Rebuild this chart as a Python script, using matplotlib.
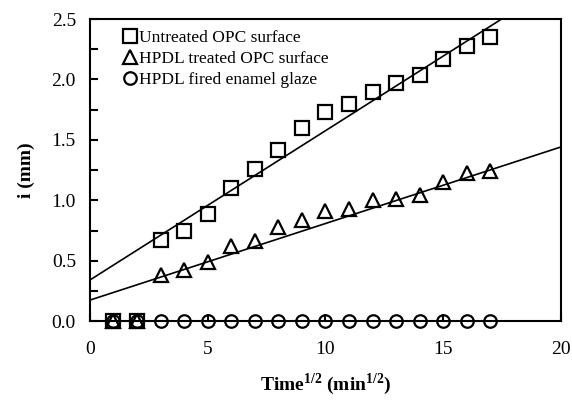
import matplotlib
matplotlib.use("Agg")
import matplotlib.pyplot as plt
import matplotlib.ticker as mticker
import numpy as np

# sqrt(time) values, min^1/2
t = [1, 2, 3, 4, 5, 6, 7, 8, 9, 10, 11, 12, 13, 14, 15, 16, 17]

untreated = [0.0, 0.0, 0.67, 0.75, 0.89, 1.10, 1.26, 1.42, 1.60, 1.73,
             1.80, 1.90, 1.97, 2.04, 2.17, 2.28, 2.35]
hpdl_treated = [0.0, 0.0, 0.38, 0.42, 0.49, 0.62, 0.66, 0.78, 0.84, 0.91,
                0.93, 1.00, 1.01, 1.04, 1.15, 1.23, 1.24]
enamel = [0.0] * 17

# linear fits (slope, intercept)
fit_untreated = (0.1236, 0.34)
fit_treated = (0.0634, 0.174)

labels = ["Untreated OPC surface", "HPDL treated OPC surface", "HPDL fired enamel glaze"]

plt.rcParams["font.family"] = ["Liberation Serif", "DejaVu Serif"]
plt.rcParams["mathtext.fontset"] = "custom"
plt.rcParams["mathtext.rm"] = "Liberation Serif"
plt.rcParams["mathtext.bf"] = "Liberation Serif:bold"

fig = plt.figure(figsize=(5.72, 4.05), dpi=100)
ax = fig.add_axes([0.157, 0.207, 0.824, 0.746])

fx = np.array([0, 20])
for slope, icpt in (fit_untreated, fit_treated):
    ax.plot(fx, slope * fx + icpt, color="black", lw=1.2, zorder=2)

mk = dict(linestyle="none", markerfacecolor="none", markeredgecolor="black",
          markeredgewidth=1.6, clip_on=False, zorder=3)
ax.plot(t, enamel, marker="o", markersize=9, label=labels[2], **mk)
ax.plot(t, hpdl_treated, marker="^", markersize=10, label=labels[1], **mk)
ax.plot(t, untreated, marker="s", markersize=10, label=labels[0], **mk)

ax.set_xlim(0, 20)
ax.set_ylim(0, 2.5)
ax.xaxis.set_major_locator(mticker.MultipleLocator(5))
ax.yaxis.set_major_locator(mticker.MultipleLocator(0.5))
ax.yaxis.set_minor_locator(mticker.MultipleLocator(0.25))
ax.yaxis.set_major_formatter(mticker.FormatStrFormatter("%.1f"))
ax.tick_params(which="both", direction="in", width=1.5, labelsize=14,
               top=False, right=False)
ax.tick_params(axis="y", which="major", length=6, pad=10)
ax.tick_params(axis="y", which="minor", length=6)
ax.tick_params(axis="x", which="major", length=5, pad=14)
for sp in ax.spines.values():
    sp.set_linewidth(1.5)

ax.set_xlabel("Time$^{\\mathbf{1/2}}$ (min$^{\\mathbf{1/2}}$)", fontsize=14,
              fontweight="bold", labelpad=10)
ax.set_ylabel("i (mm)", fontsize=14, fontweight="bold", labelpad=12)

handles, labs = ax.get_legend_handles_labels()
ax.legend(handles[::-1], labs[::-1], loc="upper left", frameon=False,
          fontsize=12.5, handlelength=0.7, handletextpad=0.2, labelspacing=0.3,
          borderaxespad=0.2, bbox_to_anchor=(0.05, 1.0), markerscale=1.0)

fig.savefig("out.png", dpi=100)
